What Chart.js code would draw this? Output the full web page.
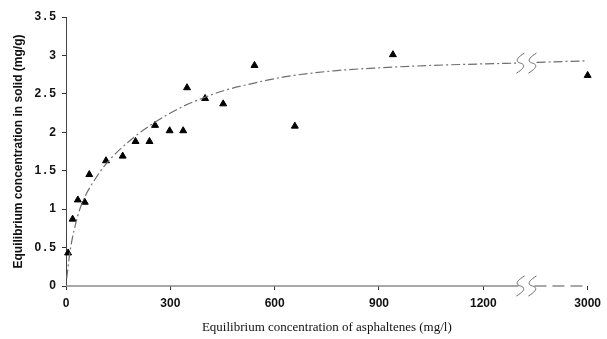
<!DOCTYPE html>
<html>
<head>
<meta charset="utf-8">
<script src="https://cdn.jsdelivr.net/npm/chart.js@4.4.0/dist/chart.umd.min.js"></script>
<style>
  html, body { margin: 0; padding: 0; background: #fff; }
  #wrap { width: 607px; height: 339px; }
</style>
</head>
<body>
<div id="wrap"><canvas id="chart"></canvas></div>
<script>
// measured points (asphaltenes mg/l vs mg/g in solid)
var concX = [6, 19, 34, 54, 67, 115, 163, 200, 240, 256, 298, 337, 348, 400, 452, 542, 658, 940, 3000];
var concY = [0.43, 0.87, 1.12, 1.09, 1.45, 1.63, 1.69, 1.88, 1.88, 2.09, 2.02, 2.02, 2.58, 2.44, 2.37, 2.87, 2.08, 3.01, 2.74];

// fitted curve (null = gap at the axis break)
var fitX = [2, 13, 33, 50, 88, 117, 194, 252, 329, 396, 460, 531, 627, 771, 906, 1050, 1200, 1300, null, 1600, 3000];
var fitY = [0.1, 0.49, 0.9, 1.12, 1.42, 1.6, 1.93, 2.12, 2.32, 2.45, 2.55, 2.63, 2.72, 2.8, 2.84, 2.87, 2.89, 2.9, null, 2.91, 2.93];

var xTicks = [0, 300, 600, 900, 1200, 3000];
var yTicks = [0, 0.5, 1, 1.5, 2, 2.5, 3, 3.5];

// broken x axis: values past the break are squeezed into the last bit
var BREAK = 1324, AXIS_END = 1500, REAL_END = 3000;
function toAxis(v) {
    if (v <= BREAK) return v;
    return BREAK + (v - BREAK) * (AXIS_END - BREAK) / (REAL_END - BREAK);
}

var pts = concX.map(function (x, i) { return { x: toAxis(x), y: concY[i] }; });
var fit = fitX.map(function (x, i) { return x === null ? { x: toAxis(1450), y: null } : { x: toAxis(x), y: fitY[i] }; });

var tickFont = { family: "'Liberation Sans Narrow', 'Liberation Sans', sans-serif", size: 12, weight: 'bold' };

function squiggle(ctx, cx, cy, h) {
    ctx.beginPath();
    ctx.moveTo(cx + 4, cy - h);
    ctx.bezierCurveTo(cx - 6, cy - h * 0.4, cx - 4, cy - h * 0.1, cx, cy);
    ctx.bezierCurveTo(cx + 4, cy + h * 0.1, cx + 6, cy + h * 0.4, cx - 4, cy + h);
    ctx.stroke();
}

var brokenAxis = {
    id: 'brokenAxis',
    beforeDatasetsDraw: function (chart) {
        var c = chart.ctx, xs = chart.scales.x, ys = chart.scales.y;
        var y0 = ys.getPixelForValue(0);
        var xb = xs.getPixelForValue(BREAK);
        c.save();
        c.strokeStyle = '#8a8a8a';
        c.lineWidth = 1.5;
        c.beginPath();
        c.moveTo(xs.left, y0);
        c.lineTo(xb - 8, y0);
        c.stroke();
        c.setLineDash([12, 6]);
        c.beginPath();
        c.moveTo(xb + 8, y0);
        c.lineTo(xs.right, y0);
        c.stroke();
        c.restore();
    },
    afterDatasetsDraw: function (chart) {
        var c = chart.ctx, xs = chart.scales.x, ys = chart.scales.y;
        var xb = xs.getPixelForValue(BREAK);
        var y0 = ys.getPixelForValue(0);
        var yc = ys.getPixelForValue(2.9);
        c.save();
        c.strokeStyle = '#666';
        c.lineWidth = 1;
        [y0, yc].forEach(function (yy) {
            squiggle(c, xb - 6, yy, 10);
            squiggle(c, xb + 6, yy, 10);
        });
        c.restore();
    }
};

new Chart(document.getElementById('chart'), {
    type: 'scatter',
    data: {
        datasets: [
            {
                label: 'fit',
                type: 'line',
                data: fit,
                borderColor: '#6e6e6e',
                borderWidth: 1.2,
                borderDash: [9, 3, 2, 3],
                pointRadius: 0,
                fill: false,
                spanGaps: false,
                cubicInterpolationMode: 'monotone'
            },
            {
                label: 'data',
                data: pts,
                pointStyle: 'triangle',
                pointRadius: 4,
                backgroundColor: '#000',
                borderColor: '#000',
                borderWidth: 1,
                clip: false
            }
        ]
    },
    options: {
        responsive: true,
        maintainAspectRatio: false,
        animation: false,
        layout: { padding: { top: 17, right: 14, bottom: 4, left: 11 } },
        plugins: {
            legend: { display: false },
            tooltip: { enabled: false }
        },
        scales: {
            x: {
                type: 'linear',
                min: 0,
                max: AXIS_END,
                afterBuildTicks: function (axis) {
                    axis.ticks = xTicks.map(function (v) { return { value: toAxis(v) }; });
                },
                ticks: {
                    color: '#111',
                    font: tickFont,
                    padding: 6,
                    maxRotation: 0,
                    callback: function (v) { return v === AXIS_END ? '3000' : String(v); }
                },
                grid: { display: true, drawOnChartArea: false, drawTicks: true, tickLength: 4, color: '#333' },
                border: { display: false },
                title: {
                    display: true,
                    text: 'Equilibrium concentration of asphaltenes (mg/l)',
                    color: '#111',
                    font: { family: "'Liberation Serif', 'Times New Roman', serif", size: 13 },
                    padding: { top: 8, bottom: 0 }
                },
                afterFit: function (axis) { axis.height = 49; }
            },
            y: {
                min: 0,
                max: 3.5,
                afterBuildTicks: function (axis) {
                    axis.ticks = yTicks.map(function (v) { return { value: v }; });
                },
                ticks: {
                    color: '#111',
                    font: tickFont,
                    padding: 6,
                    callback: function (v) { return String(v).replace('.', '\u2009.\u2009'); }
                },
                grid: { display: true, drawOnChartArea: false, drawTicks: true, tickLength: 4, color: '#333' },
                border: { display: true, color: '#444', width: 1 },
                title: {
                    display: true,
                    text: 'Equilibrium concentration in solid (mg/g)',
                    color: '#111',
                    font: tickFont,
                    padding: { top: 0, bottom: 6 }
                },
                afterFit: function (axis) { axis.width = 55; }
            }
        }
    },
    plugins: [brokenAxis]
});
</script>
</body>
</html>
